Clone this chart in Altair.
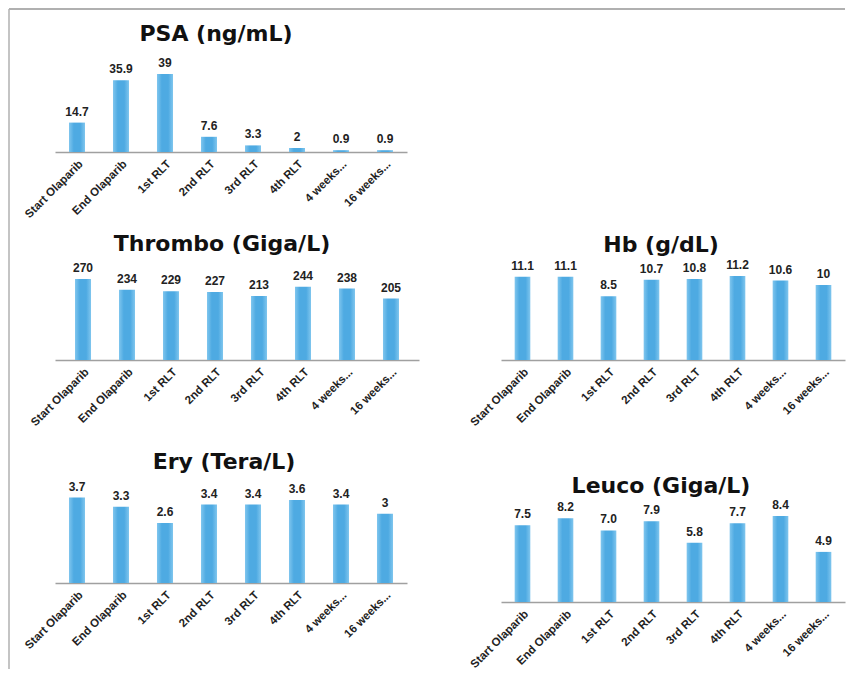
import altair as alt
import pandas as pd

categories = ["Start Olaparib", "End Olaparib", "1st RLT", "2nd RLT", "3rd RLT",
              "4th RLT", "4 weeks...", "16 weeks..."]
psa = [14.7, 35.9, 39, 7.6, 3.3, 2, 0.9, 0.9]
thrombo = [270, 234, 229, 227, 213, 244, 238, 205]
hb = [11.1, 11.1, 8.5, 10.7, 10.8, 11.2, 10.6, 10]
ery = [3.7, 3.3, 2.6, 3.4, 3.4, 3.6, 3.4, 3]
leuco = [7.5, 8.2, 7.0, 7.9, 5.8, 7.7, 8.4, 4.9]

BAR_FILL = alt.Gradient(
    gradient="linear", x1=0, x2=1, y1=0, y2=0,
    stops=[alt.GradientStop(color="#80c6ee", offset=0),
           alt.GradientStop(color="#4eaae2", offset=0.3),
           alt.GradientStop(color="#4eaae2", offset=0.7),
           alt.GradientStop(color="#80c6ee", offset=1)],
)


def panel(values, title, ymax, width, height, dx, dy, fmt=None, pin=0.636, pout=0.318):
    df = pd.DataFrame({"cat": categories, "val": values})
    base = alt.Chart(df).encode(
        x=alt.X("cat:N", sort=categories,
                scale=alt.Scale(paddingInner=pin, paddingOuter=pout),
                axis=alt.Axis(title=None, labelAngle=-45, labelFont="Liberation Sans",
                              labelFontWeight="bold", labelFontSize=11.5, labelColor="#222222",
                              ticks=False, domainColor="#a0a0a0", domainWidth=1.5,
                              labelPadding=6, grid=False)),
        y=alt.Y("val:Q", scale=alt.Scale(domain=[0, ymax]), axis=None),
    )
    bars = base.mark_bar(color=BAR_FILL)
    if fmt:
        txt = alt.Text("val:Q", format=fmt)
    else:
        txt = alt.Text("val:Q")
    labels = base.mark_text(baseline="bottom", dy=-4, font="Liberation Sans",
                            fontWeight="bold", fontSize=12, color="#222222").encode(text=txt)
    return alt.layer(bars, labels).properties(
        width=width, height=height,
        title=alt.TitleParams(text=title, font="DejaVu Sans", fontSize=22, fontWeight="bold",
                              color="#111111", anchor="middle", frame="group",
                              offset=0, dx=dx, dy=dy, baseline="alphabetic"),
    )


one = pd.DataFrame({"s": [0]})


def spacer(w, h):
    return alt.Chart(one).mark_point(opacity=0, size=1).encode(
        x=alt.value(w / 2), y=alt.value(h / 2)).properties(width=w, height=h)


# first grid cell carries the frame lines of the figure (drawn outside the cell)
corner = alt.layer(
    alt.Chart(one).mark_rule(color="#b0b0b0", strokeWidth=1.5).encode(
        x=alt.value(-46), y=alt.value(0), y2=alt.value(660)),
    alt.Chart(one).mark_rule(color="#b0b0b0", strokeWidth=2).encode(
        x=alt.value(-46), x2=alt.value(790), y=alt.value(0)),
).properties(width=352, height=53)

p_psa = panel(psa, "PSA (ng/mL)", 45, 352, 90, -15, 6)
p_thr = panel(thrombo, "Thrombo (Giga/L)", 300, 364, 90, -15, 11, pout=0.4545)
p_ery = panel(ery, "Ery (Tera/L)", 3.9, 352, 90, -7, 10)
p_hb = panel(hb, "Hb (g/dL)", 12, 344, 90, -12, 15)
p_leu = panel(leuco, "Leuco (Giga/L)", 10.66, 344, 109, -12, 22, fmt=".1f")

cells = [
    corner, spacer(82, 1), spacer(1, 1),
    p_psa, spacer(1, 1), spacer(1, 1),
    spacer(1, 118), spacer(1, 1), spacer(1, 1),
    p_thr, spacer(1, 1), p_hb,
    spacer(1, 133), spacer(1, 1), spacer(1, 1),
    p_ery, spacer(1, 1), p_leu,
]

chart = alt.concat(*cells, columns=3, spacing=0, bounds="flush").properties(
    padding=0, background="white").configure_view(strokeWidth=0)

chart.save("out.html", embed_options={"renderer": "svg", "actions": False})
